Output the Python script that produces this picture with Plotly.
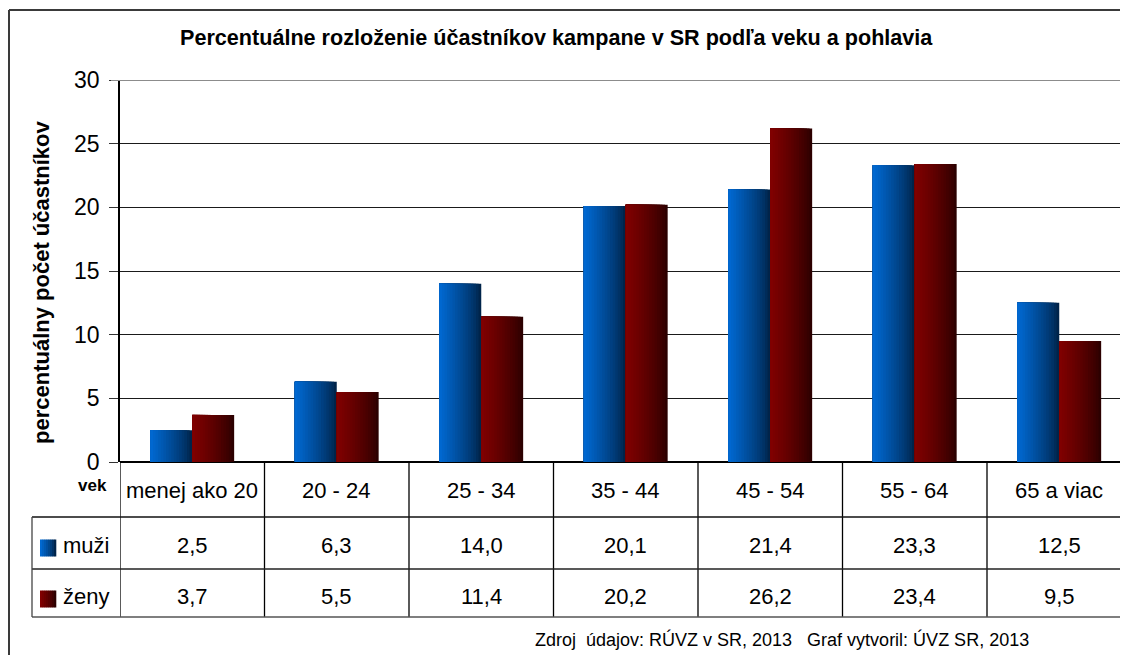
import plotly.graph_objects as go

# ---------------- data ----------------
categories = ["menej ako 20", "20 - 24", "25 - 34", "35 - 44", "45 - 54", "55 - 64", "65 a viac"]
series_names = ["muži", "ženy"]
muzi = [2.5, 6.3, 14.0, 20.1, 21.4, 23.3, 12.5]
zeny = [3.7, 5.5, 11.4, 20.2, 26.2, 23.4, 9.5]
y_ticks = [0, 5, 10, 15, 20, 25, 30]
title_text = "Percentuálne rozloženie účastníkov kampane v SR podľa veku a pohlavia"
y_title = "percentuálny počet účastníkov"
row_header = "vek"
footer_text = "Zdroj  údajov: RÚVZ v SR, 2013   Graf vytvoril: ÚVZ SR, 2013"

# ---------------- geometry / style ----------------
BODY = 8                      # default page margin around the figure
W, H = 1112, 647
ML, MR, MT, MB = 112, 0, 72, 193
PW, PH = W - ML - MR, H - MT - MB
CAT_PX = 144.5
BAR_W = 0.29
FONT = "Liberation Sans, Arial, sans-serif"

GRAD = {
    "muži": ((0, 36, 74), (0, 104, 208)),   # dark (right), light (left)
    "ženy": ((44, 0, 0), (128, 0, 0)),
}
OFFSETS = {"muži": -BAR_W, "ženy": 0.0}
VALUES = {"muži": muzi, "ženy": zeny}


def fx(px):
    """page x pixel -> paper x"""
    return (px - BODY - ML) / PW


def fy(py):
    """page y pixel -> paper y"""
    return (H - MB - (py - BODY)) / PH


def blend(c1, c2, t):
    t = t ** 0.8
    return "rgb(%d,%d,%d)" % tuple(round(a + (b - a) * t) for a, b in zip(c1, c2))


def fmt(v):
    return f"{v:.1f}".replace(".", ",")


fig = go.Figure()

N = 16
x_idx = list(range(len(categories)))
for name in series_names:
    dark, light = GRAD[name]
    for k in range(N):
        frac = (N - k) / N
        fig.add_trace(go.Bar(
            x=x_idx, y=VALUES[name], width=BAR_W * frac, offset=OFFSETS[name],
            marker=dict(color=blend(dark, light, k / (N - 1)), line=dict(width=0)),
            name=name, showlegend=False,
            hovertemplate=(name + ": %{y}<extra></extra>") if k == 0 else None,
            hoverinfo=None if k == 0 else "skip",
        ))

shapes = []
# outer frame (only top and left edges fall inside the view)
shapes.append(dict(type="line", xref="paper", yref="paper", x0=fx(9), x1=1.0,
                   y0=fy(10), y1=fy(10), line=dict(color="#3a3a3a", width=2)))
shapes.append(dict(type="line", xref="paper", yref="paper", x0=fx(9), x1=fx(9),
                   y0=fy(10), y1=fy(663), line=dict(color="#3a3a3a", width=2)))
# top gridline (lighter, thicker)
shapes.append(dict(type="line", xref="paper", yref="y", x0=fx(111), x1=1.0, y0=30, y1=30,
                   line=dict(color="#8c8c8c", width=2.2)))
# table grid: vertical lines at category boundaries
for i in range(len(categories) + 1):
    shapes.append(dict(type="line", xref="x", yref="paper", x0=i - 0.5, x1=i - 0.5,
                       y0=fy(617), y1=0, line=dict(color="black", width=1.3)))
# horizontal row lines
for py, col in ((517, "#111"), (569, "#222"), (617, "#555")):
    shapes.append(dict(type="line", xref="paper", yref="paper", x0=fx(32), x1=1.0,
                       y0=fy(py), y1=fy(py), line=dict(color=col, width=1.3)))
# left border of data rows
shapes.append(dict(type="line", xref="paper", yref="paper", x0=fx(32), x1=fx(32),
                   y0=fy(617), y1=fy(517), line=dict(color="#444", width=1.3)))
# legend keys in table (gradient squares)
KS = 8
for name, cy in zip(series_names, (548, 599)):
    dark, light = GRAD[name]
    x0p, x1p = 40, 56
    for k in range(KS):
        a = x0p + (x1p - x0p) * k / KS
        b = x0p + (x1p - x0p) * (k + 1) / KS
        shapes.append(dict(type="rect", xref="paper", yref="paper",
                           x0=fx(a), x1=fx(b + 0.3), y0=fy(cy + 8.5), y1=fy(cy - 8.5),
                           fillcolor=blend(dark, light, 1 - k / (KS - 1)),
                           line=dict(width=0)))

annotations = []
annotations.append(dict(text="<b>" + title_text + "</b>", xref="paper", yref="paper",
                        x=fx(556), y=fy(38), showarrow=False, xanchor="center",
                        yanchor="middle", font=dict(family=FONT, size=21.6, color="black")))
annotations.append(dict(text="<b>" + y_title + "</b>", xref="paper", yref="paper",
                        x=fx(41), y=fy(282), showarrow=False, textangle=-90,
                        xanchor="center", yanchor="middle",
                        font=dict(family=FONT, size=22, color="black")))
annotations.append(dict(text="<b>" + row_header + "</b>", xref="paper", yref="paper",
                        x=fx(109), y=fy(485), showarrow=False, xanchor="right",
                        yanchor="middle", font=dict(family=FONT, size=17, color="black")))
for i, c in enumerate(categories):
    annotations.append(dict(text=c, xref="x", yref="paper", x=i, y=fy(490),
                            showarrow=False, xanchor="center", yanchor="middle",
                            font=dict(family=FONT, size=22, color="black")))
for name, cy in zip(series_names, (545, 596)):
    annotations.append(dict(text=name, xref="paper", yref="paper", x=fx(61), y=fy(cy),
                            showarrow=False, xanchor="left", yanchor="middle",
                            font=dict(family=FONT, size=22, color="black")))
    for i, v in enumerate(VALUES[name]):
        annotations.append(dict(text=fmt(v), xref="x", yref="paper", x=i, y=fy(cy),
                                showarrow=False, xanchor="center", yanchor="middle",
                                font=dict(family=FONT, size=22, color="black")))
annotations.append(dict(text=footer_text, xref="paper", yref="paper", x=fx(782), y=fy(639),
                        showarrow=False, xanchor="center", yanchor="middle",
                        font=dict(family=FONT, size=18, color="black")))

fig.update_layout(
    width=W, height=H, autosize=False,
    margin=dict(l=ML, r=MR, t=MT, b=MB, pad=0),
    paper_bgcolor="white", plot_bgcolor="white",
    barmode="overlay", showlegend=False,
    shapes=shapes, annotations=annotations,
    xaxis=dict(range=[-0.5, -0.5 + PW / CAT_PX], showticklabels=False, showgrid=False,
               zeroline=False, showline=False, ticks="", fixedrange=True),
    yaxis=dict(range=[0, 30], tickvals=y_ticks, ticktext=[str(t) for t in y_ticks],
               showgrid=True, gridcolor="#1a1a1a", gridwidth=1.2,
               zeroline=True, zerolinecolor="black", zerolinewidth=2,
               showline=True, linecolor="black", linewidth=1.5,
               ticks="outside", ticklen=9, tickcolor="#333", tickwidth=1.3,
               ticklabelstandoff=5,
               tickfont=dict(family=FONT, size=23, color="black"), fixedrange=True),
)

fig.write_html("out.html")
